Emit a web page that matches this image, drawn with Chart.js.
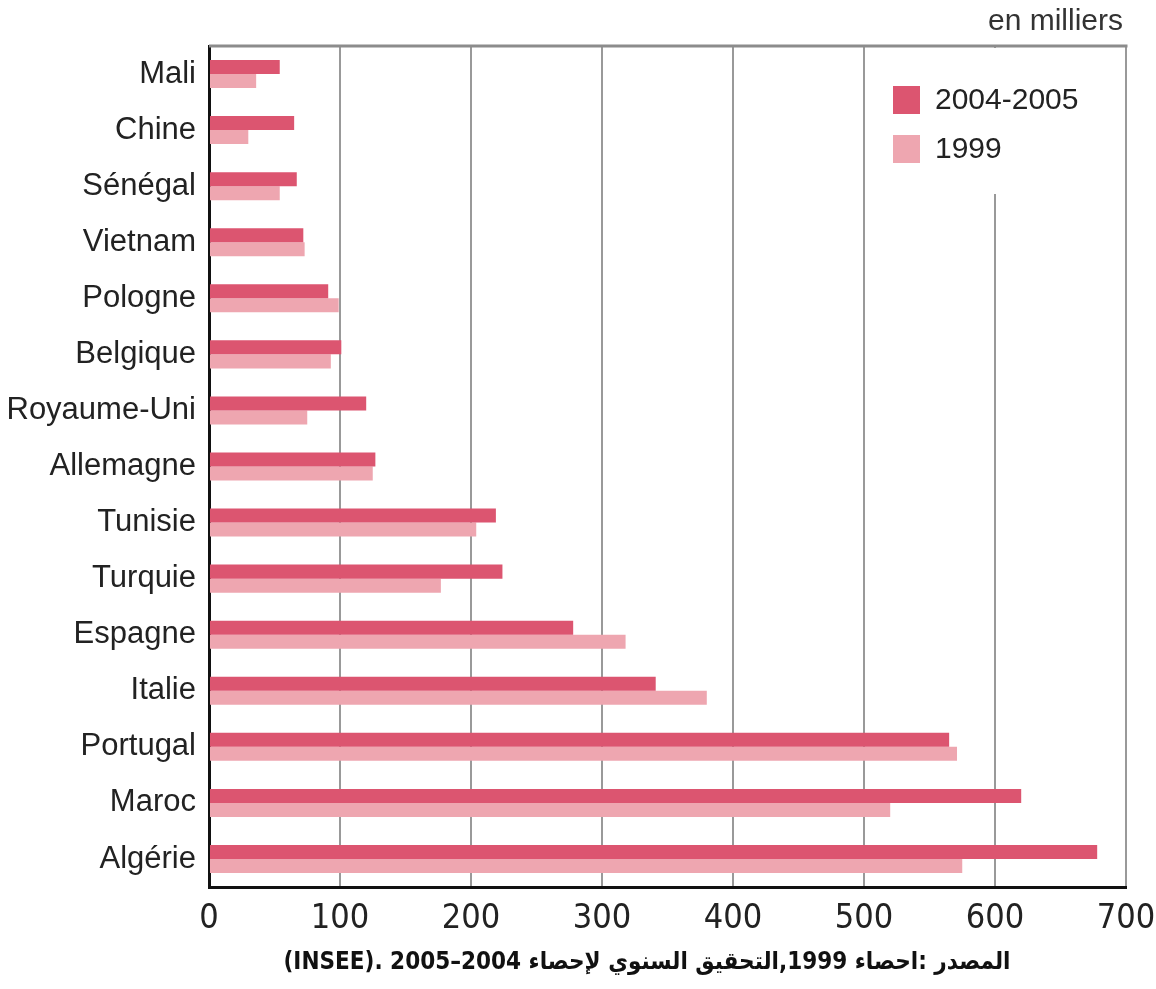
<!DOCTYPE html>
<html>
<head>
<meta charset="utf-8">
<script src="https://cdn.jsdelivr.net/npm/chart.js@4.4.1/dist/chart.umd.min.js"></script>
<style>
  html, body { margin: 0; padding: 0; background: #ffffff; }
  #wrap { width: 1156px; height: 989px; }
</style>
</head>
<body>
<div id="wrap"><canvas id="c" width="1156" height="989"></canvas></div>
<script>
const categories = ['Mali','Chine','Sénégal','Vietnam','Pologne','Belgique','Royaume-Uni','Allemagne','Tunisie','Turquie','Espagne','Italie','Portugal','Maroc','Algérie'];
const values2005 = [54, 65, 67, 72, 91, 101, 120, 127, 219, 224, 278, 341, 565, 620, 678];
const values1999 = [36, 30, 54, 73, 99, 93, 75, 125, 204, 177, 318, 380, 571, 520, 575];
const seriesLabels = ['2004-2005', '1999'];
const seriesColors = ['#dc5570', '#eea6b0'];
const xTicks = [0, 100, 200, 300, 400, 500, 600, 700];
const unitText = 'en milliers';
const captionText = 'المصدر :احصاء 1999,التحقيق السنوي لإحصاء 2004–2005 .(INSEE)';

const decor = {
  id: 'decor',
  beforeDatasetsDraw(chart) {
    const ctx = chart.ctx, a = chart.chartArea;
    ctx.save();
    ctx.strokeStyle = '#8c8c8c';
    ctx.lineWidth = 3;
    ctx.beginPath();
    ctx.moveTo(a.left, a.top);
    ctx.lineTo(a.right + 1.5, a.top);
    ctx.stroke();
    ctx.fillStyle = '#ffffff';
    ctx.fillRect(a.right - 250, a.top + 2, 246, 146);
    ctx.restore();
  },
  afterDraw(chart) {
    const ctx = chart.ctx, a = chart.chartArea;
    ctx.save();
    ctx.font = '30px "Liberation Sans", Arial, sans-serif';
    ctx.textBaseline = 'middle';
    ctx.textAlign = 'left';
    chart.data.datasets.forEach((ds, i) => {
      const y = a.top + 54 + i * 49;
      ctx.fillStyle = ds.backgroundColor;
      ctx.fillRect(a.right - 233, y - 14, 27, 28);
      ctx.fillStyle = '#222';
      ctx.fillText(ds.label, a.right - 191, y + 1);
    });
    ctx.font = '30px "Liberation Sans", Arial, sans-serif';
    ctx.textAlign = 'right';
    ctx.fillStyle = '#333';
    ctx.fillText(unitText, a.right - 3, a.top - 24);
    ctx.font = 'bold 24px "DejaVu Sans Condensed", "DejaVu Sans", sans-serif';
    ctx.direction = 'rtl';
    ctx.textAlign = 'center';
    ctx.fillStyle = '#111';
    ctx.fillText(captionText, 647, a.bottom + 76);
    ctx.restore();
  }
};

new Chart(document.getElementById('c'), {
  type: 'bar',
  data: {
    labels: categories,
    datasets: [
      { label: seriesLabels[0], data: values2005, backgroundColor: seriesColors[0] },
      { label: seriesLabels[1], data: values1999, backgroundColor: seriesColors[1] }
    ]
  },
  options: {
    indexAxis: 'y',
    responsive: false,
    animation: false,
    devicePixelRatio: 1,
    layout: { padding: { left: 0, right: 30, top: 46, bottom: 0 } },
    datasets: { bar: { categoryPercentage: 0.5, barPercentage: 1.0 } },
    plugins: { legend: { display: false }, tooltip: { enabled: false } },
    scales: {
      x: {
        min: 0, max: 700,
        afterBuildTicks(scale) { scale.ticks = xTicks.map(v => ({ value: v })); },
        afterFit(scale) { scale.height = 102; scale.paddingLeft = 0; scale.paddingRight = 0; },
        grid: { color: '#999999', lineWidth: 2, drawTicks: false },
        border: { color: '#111111', width: 3 },
        ticks: {
          padding: 12,
          color: '#222',
          font: { family: '"Liberation Sans Narrow", "DejaVu Sans Condensed", sans-serif', size: 34 }
        }
      },
      y: {
        afterFit(scale) { scale.width = 209; },
        grid: { display: false, drawTicks: false },
        border: { color: '#111111', width: 3 },
        ticks: {
          padding: 13,
          color: '#222',
          font: { family: '"Liberation Sans", Arial, sans-serif', size: 31 }
        }
      }
    }
  },
  plugins: [decor]
});
</script>
</body>
</html>
